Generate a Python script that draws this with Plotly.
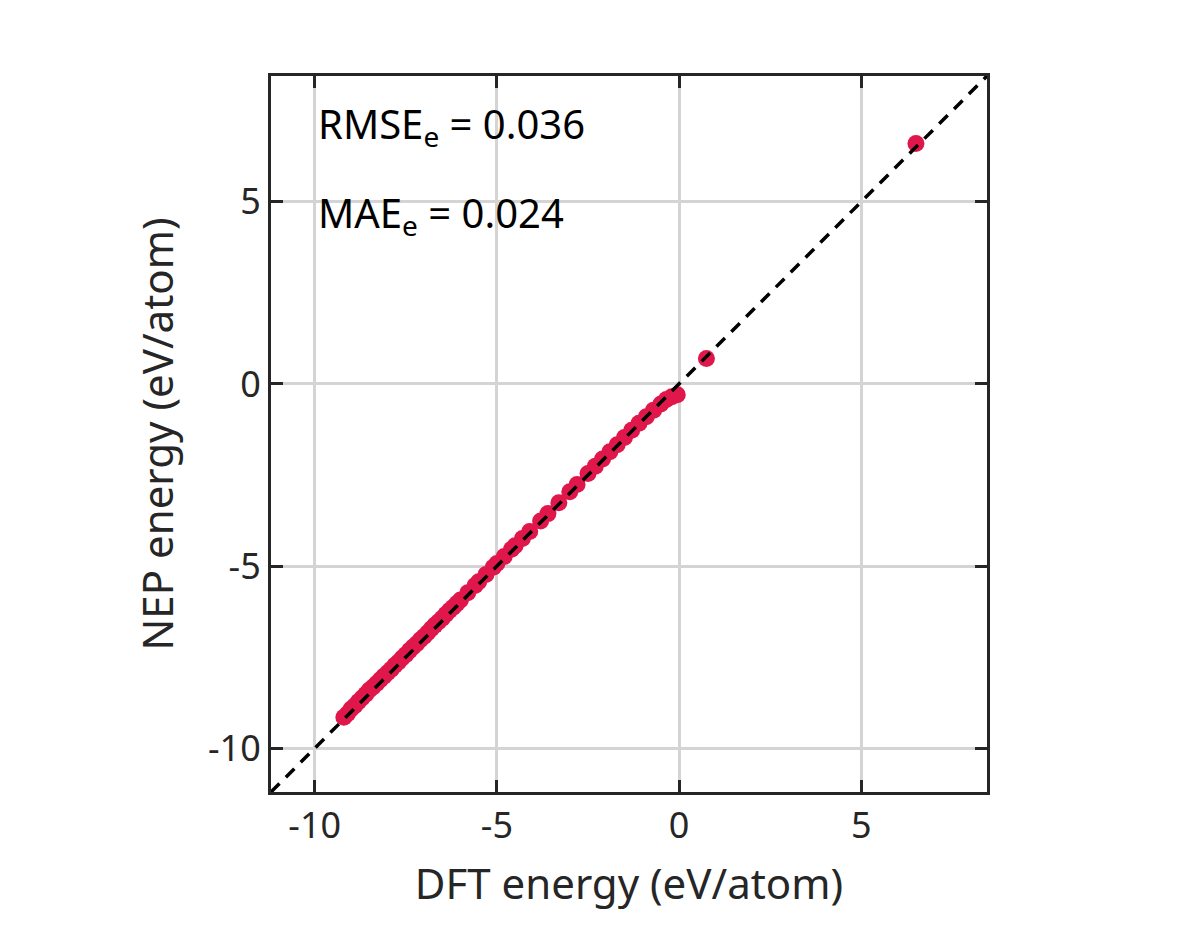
import plotly.graph_objects as go

# DFT vs NEP energies (eV/atom)
dft = [-9.2, -9.1, -9.0, -8.9, -8.8, -8.7, -8.6, -8.5, -8.4, -8.3, -8.2, -8.1, -8.0,
       -7.9, -7.8, -7.7, -7.6, -7.5, -7.4, -7.3, -7.2, -7.1, -7.0, -6.9, -6.8, -6.7,
       -6.6, -6.5, -6.4, -6.3, -6.2, -6.1, -6.0, -5.8, -5.6, -5.5, -5.3, -5.1, -5.0,
       -4.8, -4.6, -4.5, -4.3, -4.1, -3.8, -3.6, -3.3, -3.0, -2.8, -2.5, -2.3, -2.1,
       -1.9, -1.7, -1.5, -1.3, -1.1, -0.9, -0.7, -0.5, -0.35, -0.2, -0.05, 0.75, 6.5]
nep = [-9.15, -9.05, -8.92, -8.83, -8.72, -8.62, -8.52, -8.40, -8.32, -8.22, -8.12, -8.02, -7.93,
       -7.83, -7.72, -7.63, -7.52, -7.43, -7.32, -7.22, -7.13, -7.02, -6.93, -6.83, -6.72, -6.62,
       -6.53, -6.43, -6.32, -6.22, -6.13, -6.03, -5.93, -5.73, -5.53, -5.43, -5.23, -5.03, -4.93,
       -4.74, -4.54, -4.44, -4.24, -4.05, -3.76, -3.56, -3.26, -2.96, -2.76, -2.46, -2.26, -2.06,
       -1.86, -1.67, -1.47, -1.27, -1.08, -0.90, -0.72, -0.55, -0.43, -0.35, -0.30, 0.70, 6.6]

lim = [-11.2, 8.45]
ticks = [-10, -5, 0, 5]
tick_labels = ["-10", "-5", "0", "5"]

fig = go.Figure()
fig.add_trace(go.Scatter(x=dft, y=nep, mode="markers",
                         marker=dict(color="#e0174a", size=17, line=dict(width=0)),
                         showlegend=False))
fig.add_trace(go.Scatter(x=lim, y=lim, mode="lines",
                         line=dict(color="black", width=3.5, dash="12px,9px"),
                         showlegend=False))

axis = dict(range=lim, tickvals=ticks, ticktext=tick_labels, ticks="inside", ticklen=12,
            tickwidth=2.5, tickcolor="#262626", mirror="ticks", showline=True,
            linecolor="#262626", linewidth=3, showgrid=True, gridcolor="#d4d4d4",
            gridwidth=2.5, zeroline=False, tickfont=dict(size=36, color="#262626"))

fig.update_layout(
    width=1200, height=947, plot_bgcolor="white", paper_bgcolor="white",
    font=dict(family="Noto Sans", color="#262626"),
    margin=dict(l=263, r=221, t=68, b=163),
    xaxis=dict(axis, title=dict(text="DFT energy (eV/atom)", font=dict(size=42), standoff=22)),
    yaxis=dict(axis, title=dict(text="NEP energy (eV/atom)", font=dict(size=42), standoff=22)),
)
fig.add_annotation(xref="paper", yref="paper", x=0.063, y=0.975, xanchor="left", yanchor="top",
                   text="RMSE<sub>e</sub> = 0.036", showarrow=False,
                   font=dict(size=40, color="black"))
fig.add_annotation(xref="paper", yref="paper", x=0.063, y=0.85, xanchor="left", yanchor="top",
                   text="MAE<sub>e</sub> = 0.024", showarrow=False,
                   font=dict(size=40, color="black"))

fig.write_html("out.html")
